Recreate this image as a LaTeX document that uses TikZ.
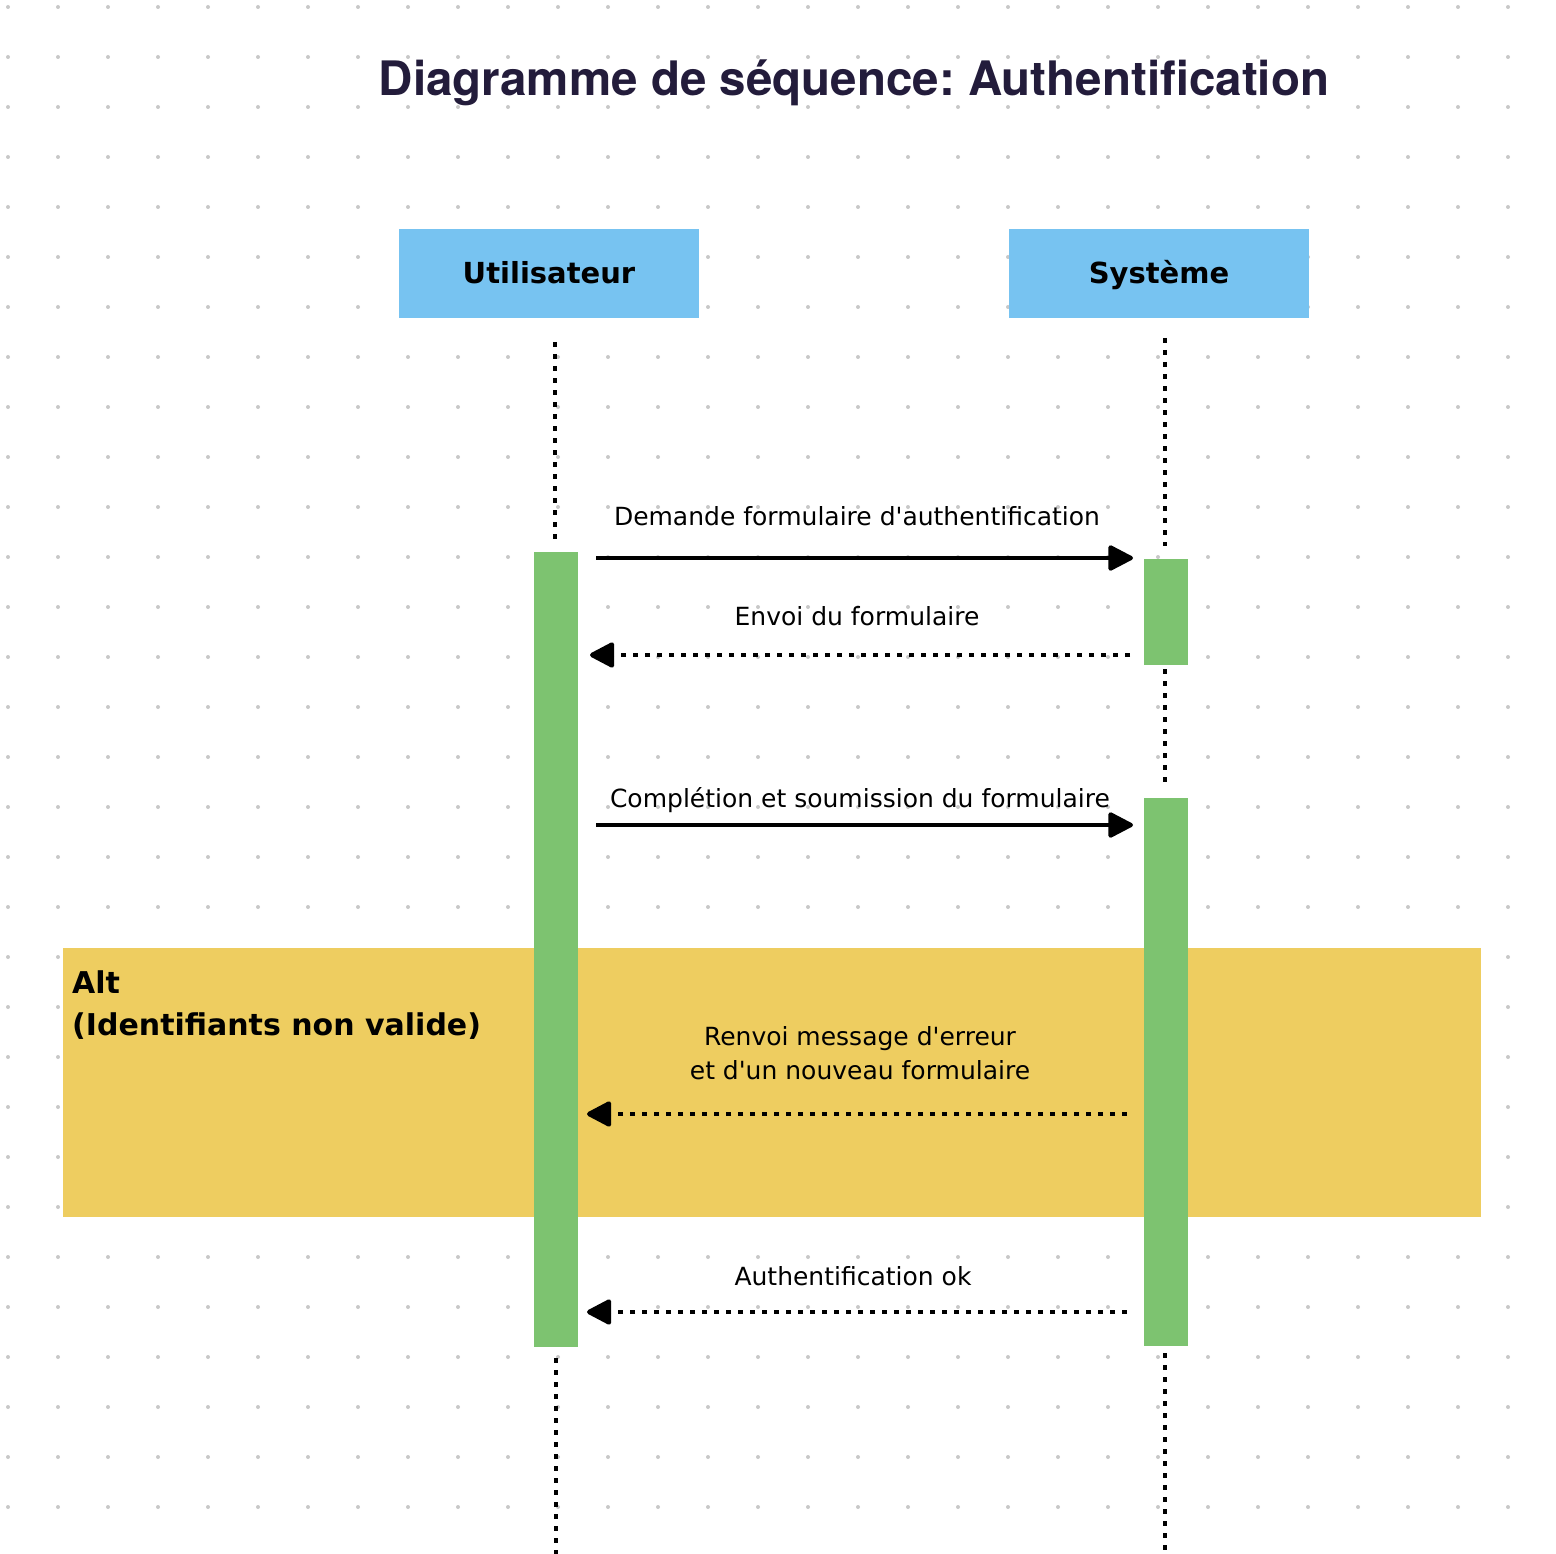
\documentclass[tikz,border=0pt]{standalone}
\usepackage{fontspec}
\setmainfont{DejaVu Sans}
\newfontfamily\titlefont{TeX Gyre Heros}
\newfontfamily\msgfont{DejaVu Sans}
\usetikzlibrary{arrows.meta}
\definecolor{gridgray}{RGB}{200,200,200}
\definecolor{actorblue}{RGB}{119,195,241}
\definecolor{barg}{RGB}{125,195,112}
\definecolor{altyellow}{RGB}{238,205,96}
\definecolor{titlecol}{RGB}{35,28,59}
\tikzset{
  actor/.style={fill=actorblue, draw=none, minimum width=300pt, minimum height=89pt, text height=21pt, text depth=0pt, font=\msgfont\fontsize{29}{34}\selectfont\bfseries, text=black},
  actbar/.style={fill=barg, draw=none, minimum width=44pt, inner sep=0pt},
  lifeline/.style={line width=4.5pt, dash pattern=on 5pt off 7pt},
  msgtext/.style={font=\msgfont\fontsize{25}{34}\selectfont, align=center, inner sep=0pt},
  syncmsg/.style={line width=4pt, -{Triangle[length=27pt,width=27pt,round]}},
  retmsg/.style={line width=4.5pt, dash pattern=on 5pt off 7pt, -{Triangle[length=27pt,width=27pt,round]}, shorten <=1pt},
}
\begin{document}
\frenchspacing
\begin{tikzpicture}[x=1pt,y=-1pt]
\useasboundingbox (0,0) rectangle (1556,1554);
\fill[white] (0,0) rectangle (1556,1554);
% dot grid
\foreach \i in {0,...,30}{
  \foreach \j in {0,...,30}{
    \fill[gridgray] (8+50*\i,7+50*\j) circle (2pt);
  }
}
% title
\node[font=\titlefont\fontsize{47.5}{52}\selectfont\bfseries, text=titlecol] (title) at (854,83) {Diagramme de séquence: Authentification};
% actors
\node[actor] (user) at (549,273.5) {Utilisateur};
\node[actor] (sys) at (1159,273.5) {Système};
% alt fragment
\fill[altyellow] (63,948) rectangle (1481,1217);
\node[anchor=north west, align=left, inner sep=0pt, font=\msgfont\fontsize{30}{42}\selectfont\bfseries] (altlabel) at (72,970) {Alt\\(Identifiants non valide)};
% activation bars
\node[actbar, minimum height=795pt, anchor=north] (ubar) at (556,552) {};
\node[actbar, minimum height=106pt, anchor=north] (sbar1) at (1166,559) {};
\node[actbar, minimum height=548pt, anchor=north] (sbar2) at (1166,798) {};
% lifelines
\coordinate (u0) at (555,342);
\coordinate (u1) at (555,540);
\coordinate (u2) at (556,1358);
\coordinate (u3) at (556,1554);
\coordinate (s0) at (1165,338);
\coordinate (s1) at (1165,546);
\coordinate (s2) at (1165,669);
\coordinate (s3) at (1165,786);
\coordinate (s4) at (1165,1353);
\coordinate (s5) at (1165,1554);
\draw[lifeline] (u0) -- (u1);
\draw[lifeline] (u2) -- (u3);
\draw[lifeline] (s0) -- (s1);
\draw[lifeline] (s2) -- (s3);
\draw[lifeline] (s4) -- (s5);
% messages
\coordinate (m1a) at (596,558);
\coordinate (m1b) at (1133,558);
\draw[syncmsg] (m1a) -- (m1b);
\node[msgtext] (t1) at (857,516) {Demande formulaire d'authentification};

\coordinate (m2a) at (1131,655);
\coordinate (m2b) at (590,655);
\draw[retmsg] (m2a) -- (m2b);
\node[msgtext] (t2) at (857,616) {Envoi du formulaire};

\coordinate (m3a) at (596,825);
\coordinate (m3b) at (1133,825);
\draw[syncmsg] (m3a) -- (m3b);
\node[msgtext] (t3) at (860,800) {Complétion et soumission du formulaire};

\coordinate (m4a) at (1128,1114);
\coordinate (m4b) at (587,1114);
\draw[retmsg] (m4a) -- (m4b);
\node[msgtext] (t4) at (860,1053) {Renvoi message d'erreur\\et d'un nouveau formulaire};

\coordinate (m5a) at (1128,1312);
\coordinate (m5b) at (587,1312);
\draw[retmsg] (m5a) -- (m5b);
\node[msgtext] (t5) at (853,1276) {Authentification ok};
\end{tikzpicture}
\end{document}
